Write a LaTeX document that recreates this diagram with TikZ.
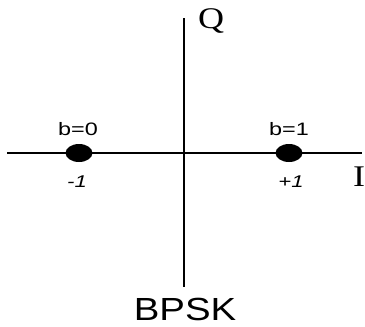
\documentclass[tikz,border=0pt]{standalone}
\usepackage{fontspec}
\setmainfont{Liberation Sans}
\newfontfamily\axisfont{Liberation Serif}
\usepackage{graphicx}
\usetikzlibrary{shapes.geometric,positioning}
\newcommand{\wide}[2][1.3]{\scalebox{#1}[1]{#2}}

\begin{document}
\begin{tikzpicture}[x=1pt,y=-1pt,
  symb/.style={ellipse,fill=black,draw=none,minimum width=27pt,minimum height=18pt,inner sep=0pt},
  bitlbl/.style={font=\fontsize{18}{20}\selectfont,inner sep=0pt},
  amplbl/.style={font=\fontsize{17}{19}\selectfont\itshape,inner sep=0pt},
  axlbl/.style={font=\fontsize{30}{34}\selectfont\axisfont,inner sep=0pt}]
\useasboundingbox (0,0) rectangle (365,327);
% axes
\coordinate (west) at (7,153);
\coordinate (east) at (362,153);
\coordinate (north) at (184,18);
\coordinate (south) at (184,287);
\draw[line width=1.5pt] (west) -- (east);
\draw[line width=2pt] (north) -- (south);
\node[axlbl] (qlbl) at (211,21) {\wide[1.2]{Q}};
\node[axlbl] (ilbl) at (359,177) {\wide[1.2]{I}};
% constellation points
\node[symb] (s0) at (79,153) {};
\node[symb] (s1) at (289,153) {};
\node[bitlbl] (b0) at (78,129) {\wide{b=0}};
\node[bitlbl] (b1) at (289,129) {\wide{b=1}};
\node[amplbl] (a0) at (77,182) {\wide{-1}};
\node[amplbl] (a1) at (291,182) {\wide{+1}};
\node[font=\fontsize{32}{36}\selectfont,inner sep=0pt] (title) at (185,309) {\wide[1.2]{BPSK}};
\end{tikzpicture}
\end{document}
